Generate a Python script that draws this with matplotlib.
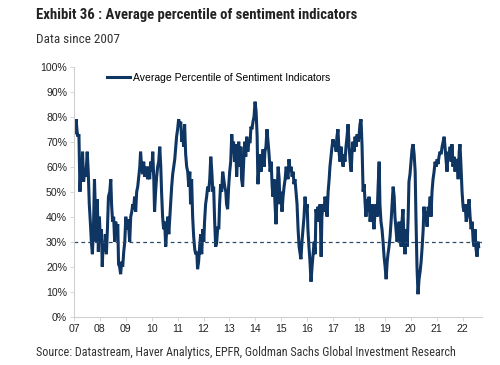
import matplotlib
matplotlib.use("Agg")
import matplotlib.pyplot as plt
from matplotlib import font_manager

# ---- data (decimal year, average percentile %) ----
years = [
2007.00,2007.04,2007.08,2007.12,2007.15,2007.19,2007.23,2007.27,2007.31,2007.33,2007.37,2007.41,2007.45,2007.49,2007.51,2007.55,
2007.59,2007.63,2007.67,2007.71,2007.75,2007.79,2007.82,2007.86,2007.90,2007.94,2007.98,2008.02,2008.06,2008.09,2008.13,2008.17,
2008.21,2008.25,2008.29,2008.33,2008.38,2008.42,2008.45,2008.49,2008.53,2008.57,2008.61,2008.65,2008.69,2008.72,2008.76,2008.80,
2008.84,2008.88,2008.92,2008.96,2009.00,2009.03,2009.07,2009.11,2009.15,2009.19,2009.23,2009.27,2009.30,2009.34,2009.38,2009.42,
2009.46,2009.50,2009.54,2009.57,2009.61,2009.65,2009.69,2009.73,2009.77,2009.81,2009.84,2009.88,2009.92,2009.96,2010.00,2010.04,
2010.08,2010.11,2010.15,2010.19,2010.23,2010.27,2010.31,2010.35,2010.38,2010.42,2010.46,2010.50,2010.54,2010.58,2010.62,2010.66,
2010.69,2010.73,2010.77,2010.81,2010.85,2010.89,2010.93,2010.96,2011.00,2011.04,2011.08,2011.12,2011.16,2011.20,2011.23,2011.27,
2011.31,2011.35,2011.39,2011.43,2011.47,2011.50,2011.54,2011.58,2011.62,2011.66,2011.70,2011.74,2011.77,2011.81,2011.85,2011.89,
2011.93,2011.97,2012.01,2012.04,2012.08,2012.12,2012.16,2012.20,2012.24,2012.28,2012.32,2012.36,2012.39,2012.43,2012.47,2012.51,
2012.55,2012.59,2012.62,2012.66,2012.70,2012.74,2012.78,2012.82,2012.86,2012.89,2012.93,2012.97,2013.01,2013.05,2013.09,2013.13,
2013.16,2013.20,2013.24,2013.28,2013.32,2013.36,2013.40,2013.44,2013.47,2013.51,2013.55,2013.59,2013.63,2013.67,2013.71,2013.75,
2013.80,2013.83,2013.87,2013.91,2013.95,2013.99,2014.03,2014.07,2014.10,2014.14,2014.18,2014.22,2014.26,2014.30,2014.34,2014.37,
2014.41,2014.45,2014.49,2014.53,2014.57,2014.61,2014.65,2014.68,2014.72,2014.76,2014.80,2014.84,2014.88,2014.92,2014.95,2014.99,
2015.03,2015.07,2015.11,2015.15,2015.19,2015.22,2015.26,2015.30,2015.34,2015.38,2015.42,2015.46,2015.49,2015.53,2015.57,2015.61,
2015.65,2015.69,2015.73,2015.76,2015.80,2015.84,2015.88,2015.92,2015.96,2016.00,2016.03,2016.07,2016.11,2016.15,2016.19,2016.23,
2016.27,2016.31,2016.34,2016.38,2016.42,2016.46,2016.50,2016.54,2016.57,2016.61,2016.65,2016.69,2016.73,2016.77,2016.81,2016.85,
2016.88,2016.92,2016.96,2017.00,2017.04,2017.08,2017.12,2017.15,2017.19,2017.23,2017.27,2017.31,2017.35,2017.39,2017.42,2017.46,
2017.50,2017.54,2017.58,2017.62,2017.66,2017.70,2017.73,2017.77,2017.81,2017.85,2017.89,2017.93,2017.97,2018.00,2018.04,2018.08,
2018.12,2018.16,2018.20,2018.24,2018.27,2018.31,2018.35,2018.39,2018.43,2018.47,2018.51,2018.54,2018.58,2018.62,2018.66,2018.70,
2018.74,2018.78,2018.81,2018.85,2018.89,2018.93,2018.97,2019.01,2019.05,2019.09,2019.12,2019.16,2019.20,2019.24,2019.28,2019.32,
2019.36,2019.39,2019.43,2019.47,2019.51,2019.55,2019.59,2019.63,2019.66,2019.70,2019.74,2019.78,2019.82,2019.86,2019.90,2019.93,
2019.97,2020.01,2020.05,2020.09,2020.13,2020.17,2020.20,2020.24,2020.28,2020.32,2020.36,2020.40,2020.44,2020.48,2020.51,2020.55,
2020.59,2020.63,2020.67,2020.71,2020.75,2020.78,2020.82,2020.86,2020.90,2020.94,2020.98,2021.02,2021.05,2021.09,2021.13,2021.17,
2021.21,2021.25,2021.29,2021.32,2021.36,2021.40,2021.44,2021.48,2021.52,2021.56,2021.59,2021.63,2021.67,2021.71,2021.75,2021.79,
2021.83,2021.87,2021.90,2021.94,2021.98,2022.02,2022.06,2022.10,2022.14,2022.17,2022.21,2022.25,2022.29,2022.33,2022.37,2022.41,
2022.45,2022.48,2022.52,2022.56,2022.60,2022.62,
]
values = [
75,73,79,74,72,73,50,60,55,66,54,58,56,62,66,58,
45,38,30,25,35,55,44,30,47,26,40,30,35,20,30,26,
33,25,35,48,50,55,45,38,40,30,38,35,37,21,20,17,
22,20,26,30,40,35,39,36,30,40,42,45,43,48,42,50,
52,56,60,66,60,57,62,56,60,58,55,60,55,62,58,66,
55,42,50,56,60,62,68,60,50,40,35,38,28,35,40,33,
38,45,52,57,60,63,68,72,75,79,76,78,70,73,68,77,
65,60,58,52,58,45,55,40,32,27,25,26,19,22,28,33,
25,35,30,38,45,48,52,50,55,64,58,50,52,38,28,30,
36,35,45,53,50,58,55,52,50,45,43,52,58,62,73,66,
70,62,69,56,65,70,60,68,55,52,62,70,64,72,66,70,
70,76,75,78,80,86,82,72,53,60,65,58,62,67,60,66,
68,75,70,65,58,62,52,48,55,45,37,50,60,55,45,50,
42,48,52,55,60,58,55,63,58,60,56,58,53,55,50,45,
35,28,25,23,30,35,40,48,42,45,35,28,22,14,20,25,
30,25,43,40,44,38,45,24,40,45,42,48,45,40,50,55,
60,64,68,71,68,70,66,72,75,66,62,68,63,60,65,62,
68,72,77,68,62,58,65,70,66,72,68,73,70,72,77,79,
68,50,53,45,40,47,42,48,38,42,45,40,35,42,45,40,
52,62,45,38,35,30,24,20,15,22,25,28,32,38,45,52,
48,40,35,30,33,38,32,28,38,43,30,25,35,28,40,54,
57,62,67,69,65,58,40,20,9,15,18,22,28,35,44,38,
42,36,44,42,48,40,50,55,58,62,60,63,61,64,66,65,
68,70,72,68,63,58,66,64,68,62,69,60,64,58,63,62,
55,66,69,60,50,44,42,45,38,40,43,47,40,35,38,30,
28,35,27,24,30,28,
]
threshold = 30
tick_years = list(range(2007, 2023))
tick_labels = [f"{y % 100:02d}" for y in tick_years]
y_ticks = list(range(0, 101, 10))
y_labels = [f"{v}%" for v in y_ticks]

title = "Exhibit 36 : Average percentile of sentiment indicators"
subtitle = "Data since 2007"
source = "Source: Datastream, Haver Analytics, EPFR, Goldman Sachs Global Investment Research"
series_name = "Average Percentile of Sentiment Indicators"

navy = "#0f3563"
fig = plt.figure(figsize=(5.0, 3.65), dpi=100)
ax = fig.add_axes([0.148, 0.1323, 0.816, 0.685])

ax.plot(years, values, color=navy, lw=2.2, label=series_name, solid_joinstyle="miter")
ax.axhline(threshold, color="#2b4a6a", lw=0.9, ls=(0, (3, 2.5)))

ax.set_xlim(2007.0, 2022.75)
ax.set_ylim(0, 100)
ax.set_xticks(tick_years)
ax.set_xticklabels(tick_labels)
ax.set_yticks(y_ticks)
ax.set_yticklabels(y_labels)
for s in ["top", "right"]:
    ax.spines[s].set_visible(False)
for s in ["left", "bottom"]:
    ax.spines[s].set_color("#d0d0d0")
    ax.spines[s].set_linewidth(0.8)
ax.tick_params(axis="both", colors="#d0d0d0", labelcolor="#222222", labelsize=7.6, length=3, width=0.6)
ax.tick_params(axis="y", pad=2)
ax.tick_params(axis="x", pad=2.5)
for lab in ax.get_xticklabels() + ax.get_yticklabels():
    lab.set_family("Liberation Sans")

leg = ax.legend(loc="upper left", bbox_to_anchor=(0.081, 0.975), frameon=False,
                borderaxespad=0, borderpad=0,
                handlelength=2.2, handletextpad=0.25,
                prop={"family": "Liberation Sans", "size": 7.5})

# condensed-looking header/footer text: pick a narrow family if available
names = {f.name for f in font_manager.fontManager.ttflist}
narrow = None
for cand in ["Liberation Sans Narrow", "DejaVu Sans Condensed", "Roboto Condensed", "Open Sans Condensed"]:
    if cand in names:
        narrow = cand
        break
hdr_font = dict(family=narrow if narrow else "Roboto")
if narrow is None:
    hdr_font["fontstretch"] = "condensed"

t1 = fig.text(0.073, 0.958, title, fontsize=10.5, fontweight="bold", color="#222222",
              va="center", ha="left", **hdr_font)
t2 = fig.text(0.073, 0.893, subtitle, fontsize=9.5, color="#333333",
              va="center", ha="left", **hdr_font)
t3 = fig.text(0.073, 0.035, source, fontsize=9.5, color="#333333",
              va="center", ha="left", **hdr_font)

# fit widths to reference widths (pixels)
fig.canvas.draw()
r = fig.canvas.get_renderer()
for t, w_target in [(t1, 323), (t2, 84), (t3, 421)]:
    w = t.get_window_extent(r).width
    t.set_fontsize(t.get_fontsize() * w_target / w)

fig.savefig("out.png", dpi=100)
